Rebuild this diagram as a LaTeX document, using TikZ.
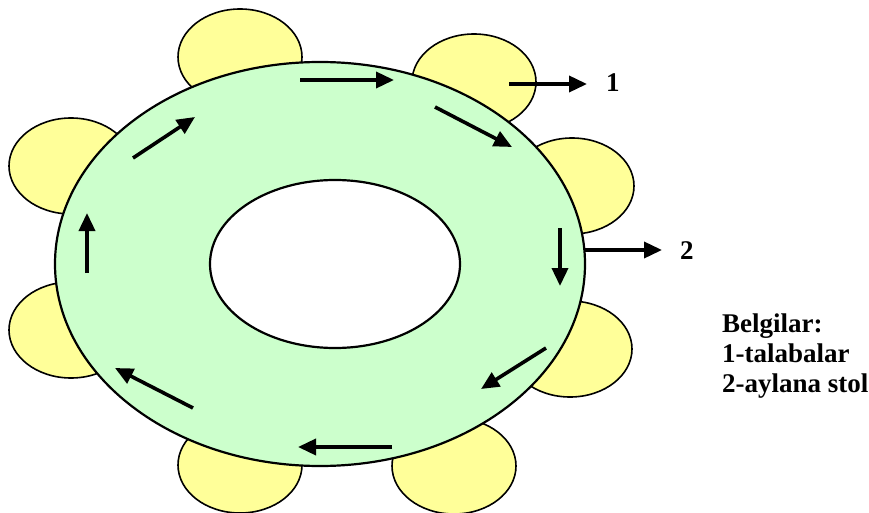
\documentclass[tikz,border=0pt]{standalone}
\usepackage{fontspec}
\setmainfont{Liberation Serif}
\usetikzlibrary{arrows.meta}
\definecolor{ringgreen}{HTML}{CCFFCC}
\definecolor{seatyellow}{HTML}{FFFF99}
\tikzset{
  seat/.style={fill=seatyellow, draw=black, line width=1.6pt},
  ring/.style={fill=ringgreen, draw=black, line width=2.2pt},
  hole/.style={fill=white, draw=black, line width=2.2pt},
  flow/.style={line width=3.6pt, -{Triangle[length=18pt,width=16pt]}},
  lbl/.style={font=\bfseries\fontsize{27}{30}\selectfont, inner sep=0pt, anchor=base west}
}
\begin{document}
\begin{tikzpicture}[x=1pt,y=-1pt]
\useasboundingbox (0,0) rectangle (869,513);
% students (seats)
\foreach \cx/\cy in {240/57, 474/82, 572/186, 570/349, 454/466, 240/465, 71/330, 71/166}
  \draw[seat] (\cx,\cy) ellipse [x radius=62, y radius=48];
% round table
\draw[ring] (320,264) ellipse [x radius=265, y radius=202];
\draw[hole] (335,264) ellipse [x radius=125, y radius=84];
% flow arrows
\coordinate (t1s) at (300,80);  \coordinate (t1e) at (394,80);
\coordinate (t2s) at (435,107); \coordinate (t2e) at (512,147);
\coordinate (t3s) at (560,228); \coordinate (t3e) at (560,286);
\coordinate (t4s) at (546,348); \coordinate (t4e) at (481,389);
\coordinate (t5s) at (392,447); \coordinate (t5e) at (298,447);
\coordinate (t6s) at (193,408); \coordinate (t6e) at (115,368);
\coordinate (t7s) at (87,273);  \coordinate (t7e) at (87,213);
\coordinate (t8s) at (133,158); \coordinate (t8e) at (195,117);
\foreach \i in {1,...,8} \draw[flow] (t\i s) -- (t\i e);
% labels
\coordinate (p1) at (509,84); \coordinate (q1) at (587,84);
\coordinate (p2) at (584,250); \coordinate (q2) at (662,250);
\draw[flow] (p1) -- (q1);
\draw[flow] (p2) -- (q2);
\node[lbl] (n1) at (606,92) {1};
\node[lbl] (n2) at (680,259) {2};
\node[lbl] (L1) at (722,332) {Belgilar:};
\node[lbl] (L2) at (722,362) {1-talabalar};
\node[lbl] (L3) at (722,392) {2-aylana stol};
\end{tikzpicture}
\end{document}
